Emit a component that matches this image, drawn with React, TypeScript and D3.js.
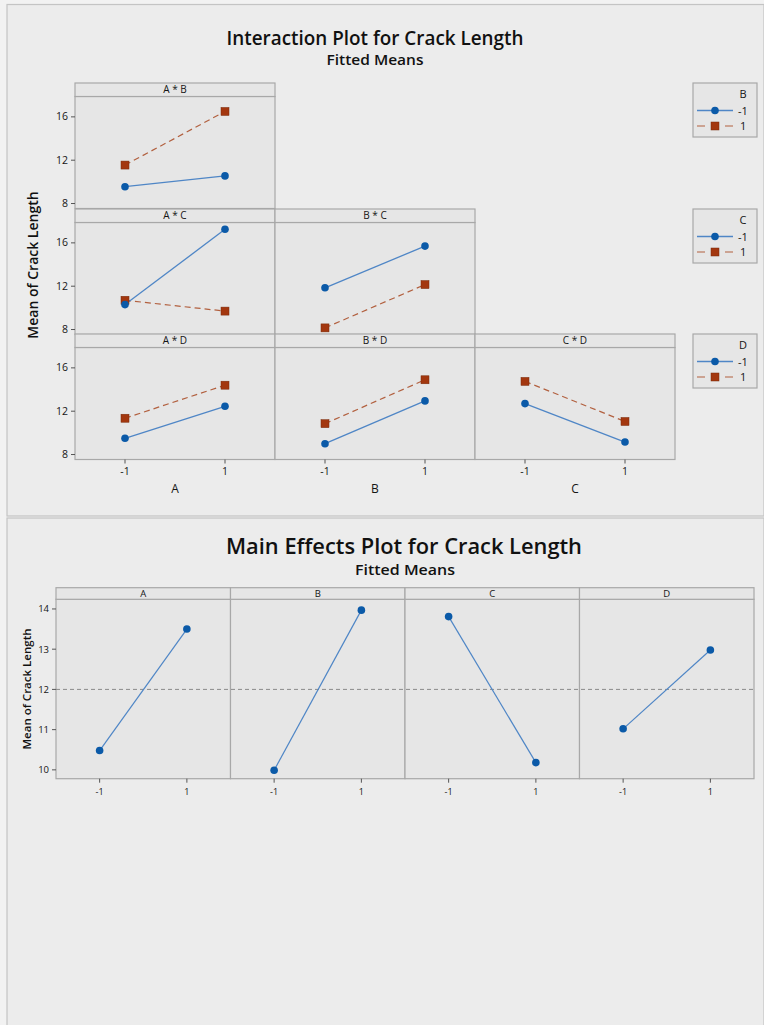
import React from "react";
import * as d3 from "d3";

// Factor levels shared by every panel
const levels = [-1, 1];

// Interaction plot: panel names, grid placement and fitted means
const interactionPanels = ["A * B", "A * C", "B * C", "A * D", "B * D", "C * D"];
const panelRow = [0, 1, 1, 2, 2, 2];
const panelCol = [0, 0, 1, 0, 1, 2];
// trace at the second factor's level -1
const traceLow = [
  [9.55, 10.55],
  [10.3, 17.25],
  [11.85, 15.7],
  [9.5, 12.45],
  [9.0, 12.95],
  [12.7, 9.15],
];
// trace at the second factor's level 1
const traceHigh = [
  [11.55, 16.5],
  [10.7, 9.7],
  [8.15, 12.15],
  [11.35, 14.4],
  [10.85, 14.9],
  [14.75, 11.05],
];
const interactionTicks = [8, 12, 16];
const xFactorNames = ["A", "B", "C"];
const legendFactors = ["B", "C", "D"];

// Main effects plot
const mainFactors = ["A", "B", "C", "D"];
const mainLow = [10.48, 9.99, 13.81, 11.02];
const mainHigh = [13.5, 13.97, 10.18, 12.98];
const grandMean = 12.0;
const mainTicks = [10, 11, 12, 13, 14];

const FONT = "'Open Sans', 'Noto Sans', sans-serif";
const BLUE = "#0b5aa8";
const BLUE_LINE = "#4f86c6";
const RED = "#a3370f";
const RED_LINE = "#b2603f";
const FRAME = "#a8a8a8";
const PANEL = "#e6e6e6";
const BG = "#ececec";
const INK = "#151515";

function Square({ x, y }: { x: number; y: number }) {
  return <rect x={x - 4} y={y - 4} width={8} height={8} fill={RED} stroke="#7a2a0a" strokeWidth={0.5} />;
}

function Dot({ x, y }: { x: number; y: number }) {
  return <circle cx={x} cy={y} r={3.8} fill={BLUE} />;
}

function InteractionPlot() {
  const left = 75;
  const colW = 200;
  const stripH = 13.5;
  const plotH = 112;
  const rowTop = [83, 209, 334];
  const y0 = d3.scaleLinear().domain([7.54, 17.88]).range([plotH, 0]);
  const xBand = (c: number) =>
    d3.scaleLinear().domain([-2, 2]).range([left + c * colW, left + (c + 1) * colW]);

  const line = d3.line<[number, number]>().x((d) => d[0]).y((d) => d[1]);

  return (
    <g>
      <text
        x={375}
        y={45}
        textAnchor="middle"
        fontFamily={FONT}
        fontSize={19.5}
        fontWeight={600}
        fill="#111"
        textLength={297}
        lengthAdjust="spacingAndGlyphs"
      >
        Interaction Plot for Crack Length
      </text>
      <text
        x={375}
        y={65}
        textAnchor="middle"
        fontFamily={FONT}
        fontSize={14}
        fontWeight={600}
        fill="#111"
        textLength={97}
        lengthAdjust="spacingAndGlyphs"
      >
        Fitted Means
      </text>
      <text
        transform={`translate(38,265) rotate(-90)`}
        textAnchor="middle"
        fontFamily={FONT}
        fontSize={14}
        fontWeight={600}
        fill="#111"
      >
        Mean of Crack Length
      </text>

      {interactionPanels.map((name, i) => {
        const r = panelRow[i];
        const c = panelCol[i];
        const x = xBand(c);
        const top = rowTop[r];
        const pTop = top + stripH;
        const y = (v: number) => pTop + y0(v);
        const lowPts: [number, number][] = levels.map((l, k) => [x(l), y(traceLow[i][k])]);
        const highPts: [number, number][] = levels.map((l, k) => [x(l), y(traceHigh[i][k])]);
        return (
          <g key={name}>
            <rect x={left + c * colW} y={pTop} width={colW} height={plotH} fill={PANEL} stroke={FRAME} strokeWidth={1.2} />
            <rect x={left + c * colW} y={top} width={colW} height={stripH} fill={PANEL} stroke={FRAME} strokeWidth={1.2} />
            <text
              x={left + c * colW + colW / 2}
              y={top + stripH / 2 + 3.5}
              textAnchor="middle"
              fontFamily={FONT}
              fontSize={10}
              fill={INK}
            >
              {name}
            </text>
            <path d={line(highPts) || ""} fill="none" stroke={RED_LINE} strokeWidth={1.2} strokeDasharray="6,4" />
            <path d={line(lowPts) || ""} fill="none" stroke={BLUE_LINE} strokeWidth={1.3} />
            {highPts.map((p, k) => (
              <Square key={"h" + k} x={p[0]} y={p[1]} />
            ))}
            {lowPts.map((p, k) => (
              <Dot key={"l" + k} x={p[0]} y={p[1]} />
            ))}
          </g>
        );
      })}

      {/* y axis ticks on the first column of each row */}
      {rowTop.map((top, r) => (
        <g key={"ya" + r}>
          {interactionTicks.map((t) => {
            const yy = top + stripH + y0(t);
            return (
              <g key={t}>
                <line x1={left - 4} x2={left} y1={yy} y2={yy} stroke="#555" strokeWidth={1} />
                <text x={left - 7} y={yy + 3.5} textAnchor="end" fontFamily={FONT} fontSize={10.5} fontWeight={500} fill={INK}>
                  {t}
                </text>
              </g>
            );
          })}
        </g>
      ))}

      {/* x axis along the bottom row */}
      {xFactorNames.map((f, c) => {
        const x = xBand(c);
        const base = rowTop[2] + stripH + plotH;
        return (
          <g key={f}>
            {levels.map((l) => (
              <g key={l}>
                <line x1={x(l)} x2={x(l)} y1={base} y2={base + 4} stroke="#555" strokeWidth={1} />
                <text x={x(l)} y={base + 15} textAnchor="middle" fontFamily={FONT} fontSize={10.5} fontWeight={500} fill={INK}>
                  {l}
                </text>
              </g>
            ))}
            <text x={x(0)} y={base + 33} textAnchor="middle" fontFamily={FONT} fontSize={12} fontWeight={500} fill={INK}>
              {f}
            </text>
          </g>
        );
      })}

      {/* legends */}
      {legendFactors.map((f, i) => {
        const top = rowTop[i];
        return (
          <g key={f} transform={`translate(693,${top})`}>
            <rect x={0} y={0} width={64} height={54} fill={PANEL} stroke={FRAME} strokeWidth={1.2} />
            <text x={50} y={15} textAnchor="middle" fontFamily={FONT} fontSize={11} fill={INK}>
              {f}
            </text>
            <line x1={4} x2={40} y1={27.5} y2={27.5} stroke={BLUE_LINE} strokeWidth={1.3} />
            <Dot x={22} y={27.5} />
            <text x={45} y={31.5} fontFamily={FONT} fontSize={11} fill={INK}>
              -1
            </text>
            <line x1={4} x2={40} y1={43} y2={43} stroke={RED_LINE} strokeWidth={1.2} strokeDasharray="8,6" />
            <Square x={22} y={43} />
            <text x={47} y={47} fontFamily={FONT} fontSize={11} fill={INK}>
              1
            </text>
          </g>
        );
      })}
    </g>
  );
}

function MainEffectsPlot() {
  const left = 56;
  const right = 754;
  const stripTop = 587.7;
  const plotTop = 599.3;
  const plotBottom = 778.7;
  const colW = (right - left) / mainFactors.length;
  const y = d3.scaleLinear().domain([9.78, 14.24]).range([plotBottom, plotTop]);
  const xBand = (c: number) =>
    d3.scaleLinear().domain([-2, 2]).range([left + c * colW, left + (c + 1) * colW]);
  const line = d3.line<[number, number]>().x((d) => d[0]).y((d) => d[1]);

  return (
    <g>
      <text
        x={404}
        y={554}
        textAnchor="middle"
        fontFamily={FONT}
        fontSize={22}
        fontWeight={600}
        fill="#111"
        textLength={356}
        lengthAdjust="spacingAndGlyphs"
      >
        Main Effects Plot for Crack Length
      </text>
      <text
        x={405}
        y={575}
        textAnchor="middle"
        fontFamily={FONT}
        fontSize={14.5}
        fontWeight={600}
        fill="#111"
        textLength={100}
        lengthAdjust="spacingAndGlyphs"
      >
        Fitted Means
      </text>
      <text
        transform={`translate(31,689) rotate(-90)`}
        textAnchor="middle"
        fontFamily={FONT}
        fontSize={11.5}
        fontWeight={600}
        fill="#111"
      >
        Mean of Crack Length
      </text>

      {mainFactors.map((f, c) => {
        const x = xBand(c);
        return (
          <g key={f}>
            <rect x={left + c * colW} y={plotTop} width={colW} height={plotBottom - plotTop} fill={PANEL} stroke={FRAME} strokeWidth={1.2} />
            <rect x={left + c * colW} y={stripTop} width={colW} height={plotTop - stripTop} fill={PANEL} stroke={FRAME} strokeWidth={1.2} />
            <text x={left + c * colW + colW / 2} y={stripTop + 9} textAnchor="middle" fontFamily={FONT} fontSize={9.5} fill={INK}>
              {f}
            </text>
            {levels.map((l) => (
              <g key={l}>
                <line x1={x(l)} x2={x(l)} y1={plotBottom} y2={plotBottom + 4} stroke="#555" strokeWidth={1} />
                <text x={x(l)} y={plotBottom + 16} textAnchor="middle" fontFamily={FONT} fontSize={9} fontWeight={500} fill={INK}>
                  {l}
                </text>
              </g>
            ))}
          </g>
        );
      })}

      <line x1={left} x2={right} y1={y(grandMean)} y2={y(grandMean)} stroke="#8a8a8a" strokeWidth={1} strokeDasharray="4,3" />

      {mainFactors.map((f, c) => {
        const x = xBand(c);
        const pts: [number, number][] = levels.map((l, k) => [x(l), y(k === 0 ? mainLow[c] : mainHigh[c])]);
        return (
          <g key={"s" + f}>
            <path d={line(pts) || ""} fill="none" stroke={BLUE_LINE} strokeWidth={1.2} />
            {pts.map((p, k) => (
              <Dot key={k} x={p[0]} y={p[1]} />
            ))}
          </g>
        );
      })}

      {mainTicks.map((t) => (
        <g key={t}>
          <line x1={left - 4} x2={left} y1={y(t)} y2={y(t)} stroke="#555" strokeWidth={1} />
          <text x={left - 7} y={y(t) + 3.5} textAnchor="end" fontFamily={FONT} fontSize={9.5} fontWeight={500} fill={INK}>
            {t}
          </text>
        </g>
      ))}
    </g>
  );
}

export default function App() {
  return (
    <svg
      width={764}
      height={1025}
      viewBox="0 0 764 1025"
      style={{ position: "absolute", left: 0, top: 0, display: "block" }}
    >
      <rect x={0} y={0} width={764} height={1025} fill="#f2f2f2" />
      <rect x={7} y={4.5} width={757} height={511.5} fill={BG} stroke="#c4c4c4" strokeWidth={1.2} />
      <rect x={7} y={518} width={757} height={510} fill={BG} stroke="#c4c4c4" strokeWidth={1.2} />
      <InteractionPlot />
      <MainEffectsPlot />
    </svg>
  );
}
